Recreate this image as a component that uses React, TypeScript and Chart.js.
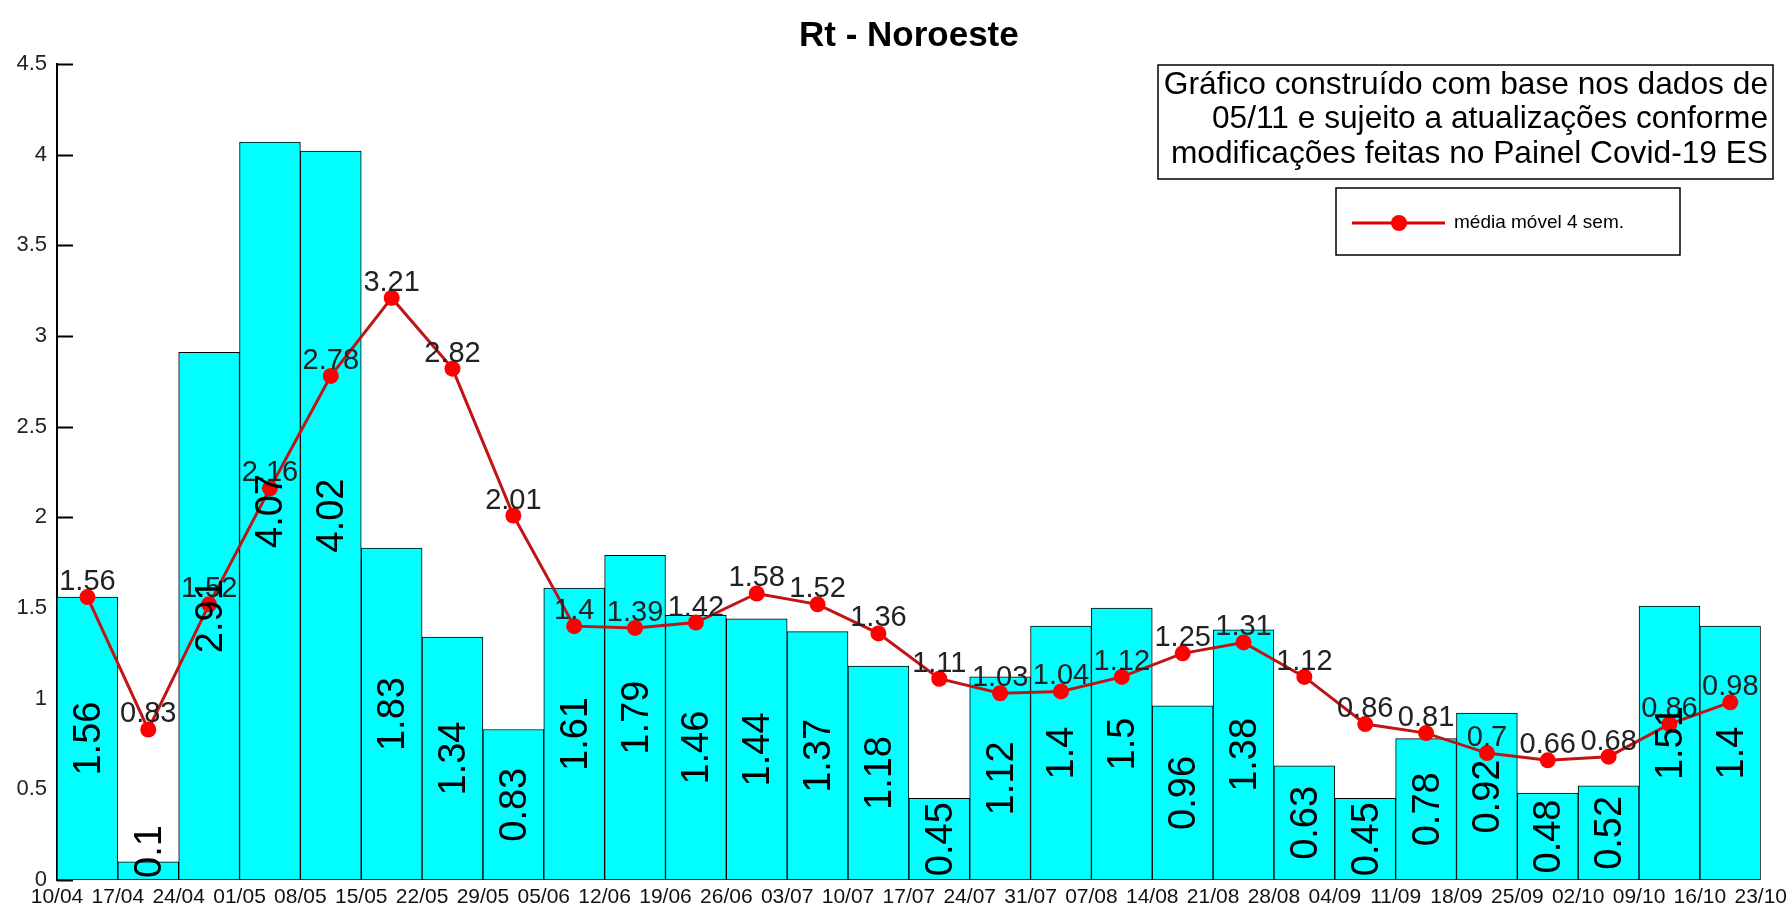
import React, { useEffect, useRef } from "react";
import { Chart, registerables } from "chart.js";

Chart.register(...registerables);

const titleText = "Rt - Noroeste";
const xLabels = [
  "10/04", "17/04", "24/04", "01/05", "08/05", "15/05", "22/05", "29/05", "05/06", "12/06",
  "19/06", "26/06", "03/07", "10/07", "17/07", "24/07", "31/07", "07/08", "14/08", "21/08",
  "28/08", "04/09", "11/09", "18/09", "25/09", "02/10", "09/10", "16/10", "23/10",
];
const rtWeekly = [
  1.56, 0.1, 2.91, 4.07, 4.02, 1.83, 1.34, 0.83, 1.61, 1.79, 1.46, 1.44, 1.37, 1.18,
  0.45, 1.12, 1.4, 1.5, 0.96, 1.38, 0.63, 0.45, 0.78, 0.92, 0.48, 0.52, 1.51, 1.4,
];
const rtMovingAvg = [
  1.56, 0.83, 1.52, 2.16, 2.78, 3.21, 2.82, 2.01, 1.4, 1.39, 1.42, 1.58, 1.52, 1.36,
  1.11, 1.03, 1.04, 1.12, 1.25, 1.31, 1.12, 0.86, 0.81, 0.7, 0.66, 0.68, 0.86, 0.98,
];
const noteLines = [
  "Gráfico construído com base nos dados de",
  "05/11 e sujeito a atualizações conforme",
  "modificações feitas no Painel Covid-19 ES",
];
const legendLabel = "média móvel 4 sem.";

const FAMILY = '"Liberation Sans", Arial, sans-serif';

const overlay = {
  id: "overlay",
  beforeDatasetsDraw(chart: any) {
    const { ctx, chartArea, scales } = chart;
    const y = scales.y;
    ctx.save();
    ctx.strokeStyle = "#000";
    ctx.lineWidth = 2;
    y.ticks.forEach((t: any) => {
      const py = Math.round(y.getPixelForValue(t.value)) + 0.5;
      ctx.beginPath();
      ctx.moveTo(chartArea.left, py);
      ctx.lineTo(chartArea.left + 16, py);
      ctx.stroke();
    });
    ctx.restore();
  },
  afterDatasetsDraw(chart: any) {
    const { ctx, scales } = chart;
    const y0 = scales.y.getPixelForValue(0);
    ctx.save();
    // line labels
    const lineMeta = chart.getDatasetMeta(1);
    ctx.font = `29px ${FAMILY}`;
    ctx.fillStyle = "#222";
    ctx.textAlign = "center";
    ctx.textBaseline = "alphabetic";
    lineMeta.data.forEach((pt: any, i: number) => {
      ctx.fillText(String(rtMovingAvg[i]), pt.x, pt.y - 7);
    });
    // bar labels (rotated)
    const barMeta = chart.getDatasetMeta(0);
    ctx.font = `38px ${FAMILY}`;
    ctx.fillStyle = "#000";
    ctx.textBaseline = "middle";
    barMeta.data.forEach((bar: any, i: number) => {
      const txt = String(rtWeekly[i]);
      const w = ctx.measureText(txt).width;
      const mid = (bar.y + bar.base) / 2;
      const cy = Math.min(mid, y0 - w / 2 - 2);
      ctx.save();
      ctx.translate(bar.x, cy);
      ctx.rotate(-Math.PI / 2);
      ctx.fillText(txt, 0, 2);
      ctx.restore();
    });
    ctx.restore();
  },
  afterDraw(chart: any) {
    const { ctx, chartArea } = chart;
    ctx.save();
    // title
    ctx.font = `bold 35px ${FAMILY}`;
    ctx.fillStyle = "#000";
    ctx.textAlign = "center";
    ctx.textBaseline = "middle";
    ctx.fillText(titleText, (chartArea.left + chartArea.right) / 2, 36);

    // note box
    ctx.strokeStyle = "#000";
    ctx.lineWidth = 1.5;
    ctx.fillStyle = "#fff";
    ctx.fillRect(1158, 65, 615, 114);
    ctx.strokeRect(1158, 65, 615, 114);
    ctx.fillStyle = "#000";
    ctx.font = `31.7px ${FAMILY}`;
    ctx.textAlign = "right";
    ctx.textBaseline = "middle";
    noteLines.forEach((l, i) => ctx.fillText(l, 1768, 85 + i * 34.5));

    // legend box
    ctx.fillStyle = "#fff";
    ctx.fillRect(1336, 188, 344, 67);
    ctx.strokeRect(1336, 188, 344, 67);
    ctx.strokeStyle = "#e00000";
    ctx.lineWidth = 3;
    ctx.beginPath();
    ctx.moveTo(1352, 223);
    ctx.lineTo(1445, 223);
    ctx.stroke();
    ctx.fillStyle = "#ff0000";
    ctx.beginPath();
    ctx.arc(1399, 223, 8, 0, Math.PI * 2);
    ctx.fill();
    ctx.fillStyle = "#000";
    ctx.font = `19px ${FAMILY}`;
    ctx.textAlign = "left";
    ctx.fillText(legendLabel, 1454, 223);
    ctx.restore();
  },
};

export default function App() {
  const ref = useRef<HTMLCanvasElement | null>(null);
  useEffect(() => {
    if (!ref.current) return;
    const chart = new Chart(ref.current, {
      type: "bar",
      data: {
        datasets: [
          {
            type: "bar",
            label: "Rt",
            data: rtWeekly.map((v, i) => ({ x: i + 0.5, y: v })),
            backgroundColor: "#00ffff",
            borderColor: "#000",
            borderWidth: 1,
            borderSkipped: false,
            barPercentage: 1,
            categoryPercentage: 1,
            order: 2,
          } as any,
          {
            type: "line",
            label: legendLabel,
            data: rtMovingAvg.map((v, i) => ({ x: i + 0.5, y: v })),
            borderColor: "#c01515",
            borderWidth: 3,
            pointRadius: 8,
            pointBackgroundColor: "#ff0000",
            pointBorderWidth: 0,
            tension: 0,
            order: 1,
          } as any,
        ],
      },
      options: {
        animation: false,
        responsive: false,
        events: [],
        layout: { padding: { top: 64, right: 29, left: 0, bottom: 0 } },
        plugins: {
          legend: { display: false },
          title: { display: false },
          tooltip: { enabled: false },
        },
        scales: {
          x: {
            type: "linear",
            min: 0,
            max: 28,
            offset: false,
            grid: { display: false, drawTicks: false },
            border: { display: false },
            ticks: {
              stepSize: 1,
              autoSkip: false,
              maxRotation: 0,
              minRotation: 0,
              padding: 5,
              color: "#111",
              font: { family: FAMILY, size: 21 },
              callback: (v: any) => xLabels[Math.round(Number(v))] ?? "",
            },
            afterFit: (s: any) => {
              s.height = 31;
            },
          },
          y: {
            min: 0,
            max: 4.5,
            grid: { display: false, drawTicks: false },
            border: { display: true, color: "#000", width: 2 },
            ticks: {
              stepSize: 0.5,
              padding: 10,
              color: "#222",
              font: { family: FAMILY, size: 22 },
              callback: (v: any) => String(Number(Number(v).toFixed(1))),
            },
            afterFit: (s: any) => {
              s.width = 57;
            },
          },
        },
      } as any,
      plugins: [overlay],
    });
    return () => chart.destroy();
  }, []);
  return (
    <div style={{ position: "fixed", left: 0, top: 0, width: 1792, height: 911, background: "#fff" }}>
      <canvas ref={ref} width={1792} height={911} style={{ display: "block" }} />
    </div>
  );
}
